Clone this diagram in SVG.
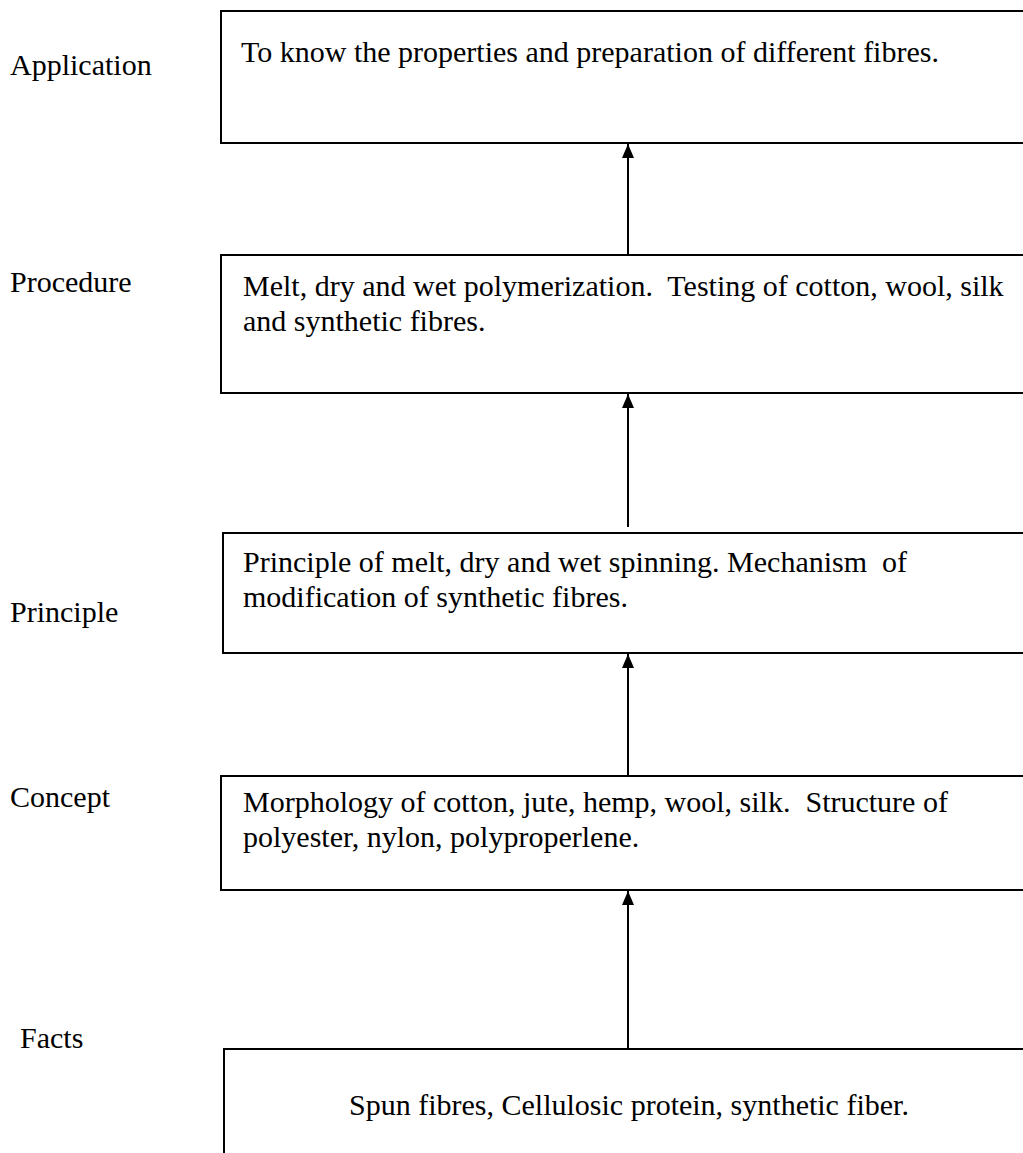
<svg xmlns="http://www.w3.org/2000/svg" width="1023" height="1153" viewBox="0 0 1023 1153">
  <style>
    .box { fill: #ffffff; stroke: #000000; stroke-width: 2; }
    .txt { font-family: "Liberation Serif", "Times New Roman", serif; font-size: 30px; fill: #000000; white-space: pre; }
    .conn { stroke: #000000; stroke-width: 2; fill: none; }
  </style>
  <defs>
    <marker id="arrow" viewBox="0 0 14 12" refX="14" refY="6" markerWidth="14" markerHeight="12" markerUnits="userSpaceOnUse" orient="auto">
      <path d="M0,0 L14,6 L0,12 Z" fill="#000000"/>
    </marker>
  </defs>
  <rect width="1023" height="1153" fill="#ffffff"/>

  <!-- level labels -->
  <g id="labels" class="txt">
    <text x="10" y="75">Application</text>
    <text x="10" y="292">Procedure</text>
    <text x="10" y="622">Principle</text>
    <text x="10" y="807">Concept</text>
    <text x="20" y="1048">Facts</text>
  </g>

  <g id="node-application">
    <rect class="box" x="221" y="11" width="820" height="132"/>
    <text class="txt" x="241" y="62">To know the properties and preparation of different fibres.</text>
  </g>

  <g id="node-procedure">
    <rect class="box" x="221" y="255" width="820" height="138"/>
    <text class="txt" x="243" y="296" xml:space="preserve">Melt, dry and wet polymerization.  Testing of cotton, wool, silk</text>
    <text class="txt" x="243" y="331">and synthetic fibres.</text>
  </g>

  <g id="node-principle">
    <rect class="box" x="223" y="533" width="820" height="120"/>
    <text class="txt" x="243" y="572" xml:space="preserve">Principle of melt, dry and wet spinning. Mechanism  of</text>
    <text class="txt" x="243" y="607">modification of synthetic fibres.</text>
  </g>

  <g id="node-concept">
    <rect class="box" x="221" y="776" width="820" height="114"/>
    <text class="txt" x="243" y="812" xml:space="preserve">Morphology of cotton, jute, hemp, wool, silk.  Structure of</text>
    <text class="txt" x="243" y="847">polyester, nylon, polyproperlene.</text>
  </g>

  <g id="node-facts">
    <rect class="box" x="224" y="1049" width="820" height="120"/>
    <text class="txt" x="349" y="1115">Spun fibres, Cellulosic protein, synthetic fiber.</text>
  </g>

  <g id="connectors">
    <line class="conn" x1="628" y1="255" x2="628" y2="144" marker-end="url(#arrow)"/>
    <line class="conn" x1="628" y1="527" x2="628" y2="394" marker-end="url(#arrow)"/>
    <line class="conn" x1="628" y1="776" x2="628" y2="654" marker-end="url(#arrow)"/>
    <line class="conn" x1="628" y1="1049" x2="628" y2="891" marker-end="url(#arrow)"/>
  </g>
</svg>
